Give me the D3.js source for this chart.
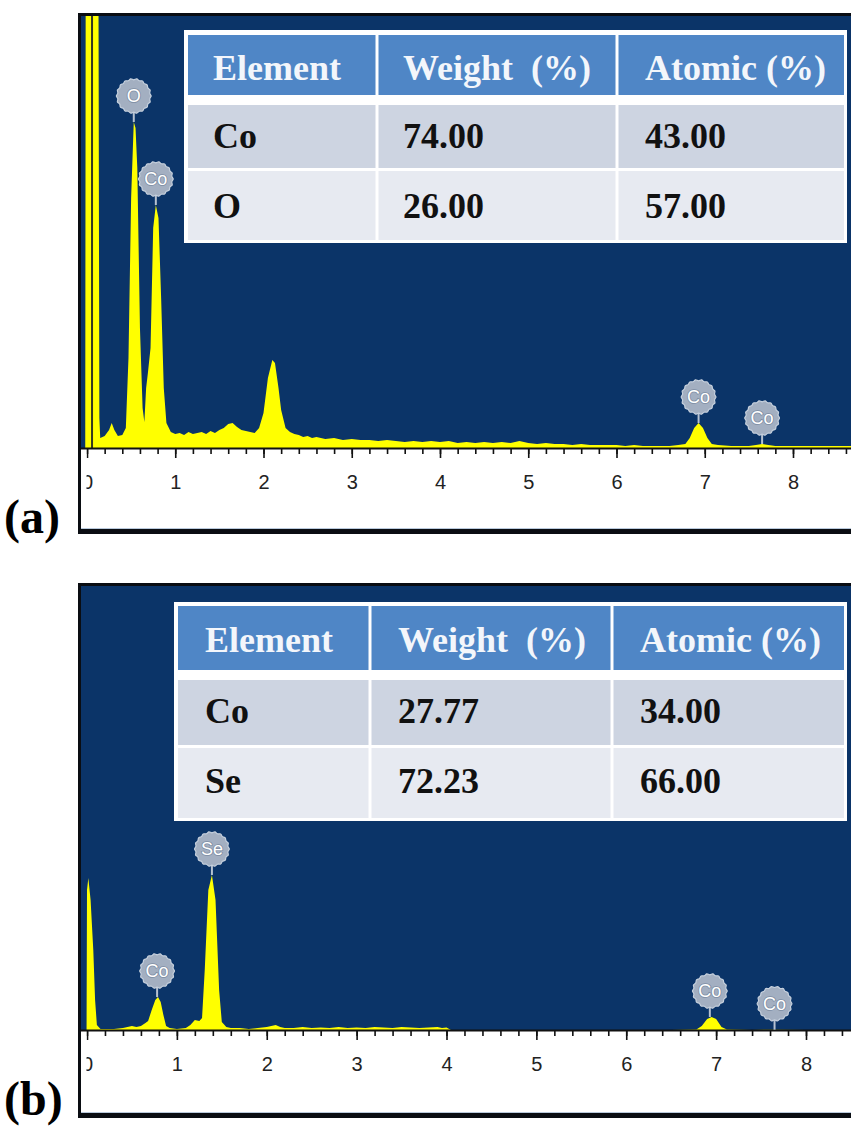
<!DOCTYPE html>
<html>
<head>
<meta charset="utf-8">
<script src="https://cdn.jsdelivr.net/npm/d3@7"></script>
<style>
  body { margin: 0; background: #ffffff; }
  svg { display: block; }
</style>
</head>
<body>
<div id="chart"></div>
<script>
// EDS spectrum (a) : [energy keV, counts]
const spectrumA = [
  [-0.08, 0], [-0.02, 0], [-0.015, 4600], [0.13, 4600], [0.14, 300], [0.15, 100],
  [0.2, 120], [0.25, 180], [0.28, 250], [0.31, 180], [0.35, 120], [0.4, 130], [0.44, 200],
  [0.47, 900], [0.5, 2500], [0.53, 3260], [0.55, 3200], [0.57, 2800], [0.6, 1200], [0.63, 400],
  [0.65, 260], [0.67, 600], [0.69, 750], [0.72, 1000], [0.75, 2200], [0.78, 2430], [0.81, 2300],
  [0.84, 1500], [0.87, 600], [0.9, 250], [0.95, 160], [1.0, 140], [1.05, 150], [1.1, 130],
  [1.15, 160], [1.2, 140], [1.25, 150], [1.3, 160], [1.35, 140], [1.4, 170], [1.45, 150],
  [1.5, 180], [1.55, 200], [1.6, 240], [1.65, 250], [1.7, 210], [1.75, 180], [1.8, 170],
  [1.85, 160], [1.9, 150], [1.95, 200], [2.0, 350], [2.05, 700], [2.1, 880], [2.13, 850],
  [2.17, 600], [2.2, 380], [2.25, 200], [2.3, 160], [2.35, 140], [2.4, 130], [2.45, 110],
  [2.5, 120], [2.55, 100], [2.6, 110], [2.7, 90], [2.8, 100], [2.9, 80], [3.0, 90], [3.1, 80],
  [3.2, 80], [3.3, 70], [3.4, 80], [3.5, 70], [3.6, 60], [3.7, 70], [3.8, 60], [3.9, 70],
  [4.0, 60], [4.1, 70], [4.2, 50], [4.3, 60], [4.4, 50], [4.5, 60], [4.6, 50], [4.7, 60],
  [4.8, 50], [4.9, 70], [5.0, 50], [5.1, 40], [5.2, 50], [5.3, 40], [5.4, 40], [5.5, 30],
  [5.6, 40], [5.7, 30], [5.8, 30], [5.9, 30], [6.0, 30], [6.1, 20], [6.2, 30], [6.3, 20],
  [6.4, 20], [6.5, 20], [6.6, 20], [6.7, 30], [6.78, 40], [6.83, 100], [6.88, 200], [6.93, 250],
  [6.98, 200], [7.03, 100], [7.08, 40], [7.15, 30], [7.3, 20], [7.5, 20], [7.58, 30], [7.65, 40],
  [7.72, 30], [7.8, 20], [8.0, 20], [8.5, 20], [8.8, 20]
];

// EDS spectrum (b) : [energy keV, counts]
const spectrumB = [
  [-0.08, 0], [-0.005, 0], [0.0, 1400], [0.015, 1520], [0.04, 1300], [0.07, 800], [0.09, 300],
  [0.11, 50], [0.15, 10], [0.2, 10], [0.3, 10], [0.4, 20], [0.45, 30], [0.5, 40], [0.55, 30],
  [0.6, 40], [0.65, 70], [0.68, 90], [0.72, 200], [0.76, 300], [0.79, 330], [0.82, 280],
  [0.85, 150], [0.88, 40], [0.92, 20], [1.0, 10], [1.1, 20], [1.15, 50], [1.2, 100], [1.25, 90],
  [1.28, 120], [1.31, 600], [1.35, 1400], [1.39, 1550], [1.43, 1300], [1.47, 400], [1.5, 80],
  [1.55, 30], [1.6, 20], [1.7, 20], [1.8, 10], [1.9, 20], [2.0, 30], [2.05, 40], [2.1, 50],
  [2.15, 30], [2.2, 20], [2.3, 20], [2.4, 30], [2.5, 20], [2.6, 25], [2.7, 20], [2.8, 30],
  [2.9, 20], [3.0, 25], [3.1, 20], [3.2, 30], [3.3, 25], [3.4, 20], [3.5, 30], [3.6, 25],
  [3.7, 20], [3.8, 25], [3.9, 30], [3.95, 20], [4.0, 25], [4.05, 0], [4.5, 0], [5.0, 0],
  [5.5, 0], [6.0, 0], [6.5, 0], [6.78, 5], [6.84, 40], [6.9, 110], [6.95, 130], [7.0, 110],
  [7.06, 30], [7.12, 5], [7.4, 0], [7.65, 3], [8.0, 0], [8.8, 0]
];

// peak labels : [element, energy keV]
const peakLabelsA = [["O", 0.53], ["Co", 0.78], ["Co", 6.93], ["Co", 7.65]];
const peakLabelsB = [["Co", 0.78], ["Se", 1.39], ["Co", 6.93], ["Co", 7.65]];

// composition tables
const tableHeader = ["Element", "Weight  (%)", "Atomic (%)"];
const tableA = [["Co", "74.00", "43.00"], ["O", "26.00", "57.00"]];
const tableB = [["Co", "27.77", "34.00"], ["Se", "72.23", "66.00"]];

const majorTicks = [0, 1, 2, 3, 4, 5, 6, 7, 8];
const minorTicks = d3.range(0, 8.81, 0.2);

const W = 851, H = 1129;
const svg = d3.select("#chart").append("svg")
  .attr("width", W)
  .attr("height", H);

//layout of both panels
const panels = [
  {id: "a", name: "(a)", spectrum: spectrumA, labels: peakLabelsA, rows: tableA,
   top: 13, base: 448, bottom: 534, x0: 87, x8: 793, nameY: 533, marker: 0.057,
   table: {left: 184, right: 847, top: 30, bottom: 243, cols: [377, 617],
           bands: [[35, 95], [105, 168], [171, 240]], textX: [29, 26, 28], baseY: [80, 148, 218]}},
  {id: "b", name: "(b)", spectrum: spectrumB, labels: peakLabelsB, rows: tableB,
   top: 583, base: 1030, bottom: 1118, x0: 87, x8: 806, nameY: 1115, marker: null,
   table: {left: 174, right: 847, top: 602, bottom: 821, cols: [370, 612],
           bands: [[606, 670], [680, 745], [748, 818]], textX: [31, 28, 28], baseY: [652, 723, 793]}}
];

const navy = "#0b3468";
const bandFill = ["#4f86c6", "#cdd4e1", "#e7eaf1"];

// balloon outline
const blobPts = d3.range(0, 36).map(i => [i * 2 * Math.PI / 36, i % 2 ? 17.4 : 16.2]);
const blob = d3.lineRadial().curve(d3.curveCatmullRomClosed);

panels.forEach(p => drawPanel(p));

function drawPanel(p) {
  const g = svg.append("g");

  //frame
  g.append("rect").attr("x", 78).attr("y", p.top).attr("width", 800)
    .attr("height", p.bottom - p.top).attr("fill", "#0a0d12");
  g.append("rect").attr("x", 81).attr("y", p.top + 3).attr("width", 800)
    .attr("height", p.base + 1 - (p.top + 3)).attr("fill", navy);
  g.append("rect").attr("x", 81).attr("y", p.base + 1).attr("width", 800)
    .attr("height", p.bottom - 5 - (p.base + 1)).attr("fill", "#ffffff");
  g.append("line").attr("x1", 81).attr("x2", 851)
    .attr("y1", p.bottom - 5.5).attr("y2", p.bottom - 5.5)
    .attr("stroke", "#b9c9dc").attr("stroke-width", 1);

  let x = d3.scaleLinear().domain([0, 8]).range([p.x0, p.x8]);
  let y = d3.scaleLinear().domain([0, 4000]).range([p.base, p.base - 400]);

  svg.append("clipPath").attr("id", "plot-" + p.id)
    .append("rect").attr("x", 81).attr("y", p.top + 3)
    .attr("width", 780).attr("height", p.base - p.top - 3);
  svg.append("clipPath").attr("id", "axis-" + p.id)
    .append("rect").attr("x", 86.5).attr("y", p.base)
    .attr("width", 780).attr("height", p.bottom - p.base - 6);

  //spectrum
  const area = d3.area()
    .x(d => x(d[0]))
    .y0(p.base)
    .y1(d => y(d[1]));

  const plot = g.append("g").attr("clip-path", `url(#plot-${p.id})`);
  plot.append("path")
    .datum(p.spectrum)
    .attr("d", area)
    .attr("fill", "#ffff00");

  if (p.marker !== null) {
    plot.append("line")
      .attr("x1", x(p.marker)).attr("x2", x(p.marker))
      .attr("y1", p.top + 3).attr("y2", p.base)
      .attr("stroke", "#34391f").attr("stroke-width", 2);
  }

  //axis
  const ax = g.append("g").attr("clip-path", `url(#axis-${p.id})`);
  const axG = ax.append("g").attr("transform", `translate(0,${p.base + 1})`);
  axG.call(d3.axisBottom(x).tickValues(minorTicks).tickSize(5).tickSizeOuter(0).tickFormat(""));
  axG.call(g2 => g2.select(".domain").remove());
  const majG = ax.append("g").attr("transform", `translate(0,${p.base + 1})`);
  majG.call(d3.axisBottom(x).tickValues(majorTicks).tickSize(9).tickSizeOuter(0)
    .tickPadding(17).tickFormat(d3.format("d")));
  majG.select(".domain").remove();
  majG.selectAll("text")
    .attr("font-family", "'Liberation Sans', Arial, sans-serif")
    .attr("font-size", 20)
    .attr("fill", "#222222");
  ax.selectAll(".tick line").attr("stroke", "#111111").attr("stroke-width", 1.6);

  g.append("line").attr("x1", 81).attr("x2", 851)
    .attr("y1", p.base + 0.5).attr("y2", p.base + 0.5)
    .attr("stroke", "#111111").attr("stroke-width", 2);

  //peak balloons
  p.labels.forEach(([el, e]) => {
    const near = p.spectrum.filter(d => Math.abs(d[0] - e) <= 0.05);
    const py = y(d3.max(near, d => d[1]));
    const bx = x(e), by = py - 26;
    g.append("line")
      .attr("x1", bx).attr("x2", bx)
      .attr("y1", by + 15).attr("y2", py)
      .attr("stroke", "#b7c2d1").attr("stroke-width", 2);
    g.append("path")
      .attr("d", blob(blobPts))
      .attr("transform", `translate(${bx},${by})`)
      .attr("fill", "#a3afc1")
      .attr("stroke", "#c6d0dd").attr("stroke-width", 1.2);
    g.append("text")
      .attr("x", bx).attr("y", by)
      .attr("dy", "0.36em")
      .attr("text-anchor", "middle")
      .attr("font-family", "'Liberation Sans', Arial, sans-serif")
      .attr("font-size", 18)
      .attr("fill", "#ffffff")
      .attr("stroke", "#7d8da3").attr("stroke-width", 1.6)
      .style("paint-order", "stroke")
      .text(el);
  });

  //composition table
  const t = p.table;
  g.append("rect").attr("x", t.left).attr("y", t.top)
    .attr("width", t.right - t.left).attr("height", t.bottom - t.top)
    .attr("fill", "#ffffff");
  const colStart = [t.left + 4, t.cols[0] + 1.5, t.cols[1] + 1.5];
  const colEnd = [t.cols[0] - 1.5, t.cols[1] - 1.5, t.right - 3];
  const textStart = [t.left, t.cols[0], t.cols[1]];
  const allRows = [tableHeader].concat(p.rows);

  allRows.forEach((row, i) => {
    row.forEach((cell, j) => {
      g.append("rect")
        .attr("x", colStart[j]).attr("y", t.bands[i][0])
        .attr("width", colEnd[j] - colStart[j])
        .attr("height", t.bands[i][1] - t.bands[i][0])
        .attr("fill", bandFill[i]);
      g.append("text")
        .attr("x", textStart[j] + t.textX[j])
        .attr("y", t.baseY[i])
        .attr("font-family", "'Liberation Serif', 'Times New Roman', serif")
        .attr("font-weight", "bold")
        .attr("font-size", 36)
        .style("white-space", "pre")
        .attr("fill", i === 0 ? "#f3f6fb" : "#111111")
        .text(cell);
    });
  });

  //panel letter
  svg.append("text")
    .attr("x", 4).attr("y", p.nameY)
    .attr("font-family", "'Liberation Serif', 'Times New Roman', serif")
    .attr("font-weight", "bold")
    .attr("font-size", 48)
    .attr("fill", "#000000")
    .text(p.name);
}
</script>
</body>
</html>
